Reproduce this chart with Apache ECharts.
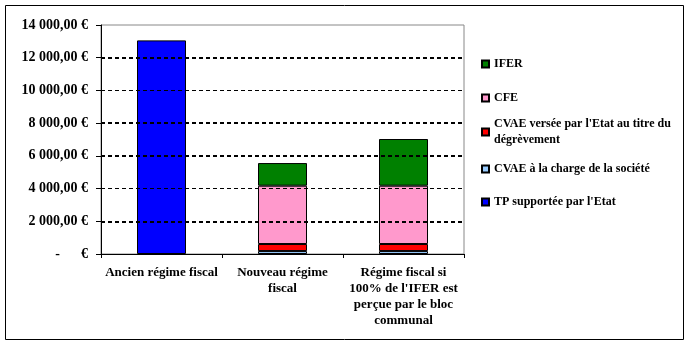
<!DOCTYPE html>
<html>
<head>
<meta charset="utf-8">
<script src="https://cdn.jsdelivr.net/npm/echarts@6/dist/echarts.min.js"></script>
<style>
  html, body { margin: 0; padding: 0; background: #fff; }
  #chart { width: 689px; height: 345px; }
</style>
</head>
<body>
<div id="chart"></div>
<script>
// Categories (x axis), with their line breaks
const categories = [
  "Ancien régime fiscal",
  "Nouveau régime\nfiscal",
  "Régime fiscal si\n100% de l'IFER est\nperçue par le bloc\ncommunal"
];

// Series values, in euros
const tpEtat = [13060, null, null];          // TP supportée par l'Etat
const cvaeSociete = [null, 180, 180];        // CVAE à la charge de la société
const cvaeEtat = [null, 430, 430];           // CVAE versée par l'Etat au titre du dégrèvement
const cfe = [null, 3565, 3565];              // CFE
const ifer = [null, 1385, 2855];             // IFER

// Y axis gridlines
const strongGrid = [2000, 6000, 8000, 12000];
const lightGrid = [4000, 10000];

const FONT = "'Liberation Serif', serif";

function euro(v) {
  if (v === 0) return "-      €";
  const s = String(Math.round(v)).replace(/\B(?=(\d{3})+(?!\d))/g, " ");
  return s + ",00 €";
}

const chart = echarts.init(document.getElementById("chart"), null, { renderer: "canvas" });

const border = { borderColor: "#000", borderWidth: 1 };

function bar(name, data, color, extra) {
  return Object.assign({
    name: name,
    type: "bar",
    stack: "total",
    barWidth: 49,
    data: data,
    itemStyle: Object.assign({ color: color }, border),
    emphasis: { disabled: true }
  }, extra || {});
}

const gridLines = {
  silent: true,
  symbol: "none",
  label: { show: false },
  data: strongGrid.map(v => ({ yAxis: v, lineStyle: { type: [4, 3], width: 2, color: "#000" } }))
    .concat(lightGrid.map(v => ({ yAxis: v, lineStyle: { type: [4, 3], width: 1, color: "#000" } })))
};

function legendFor(name, top, extraText) {
  return {
    orient: "vertical",
    left: 481,
    top: top,
    padding: 0,
    icon: "rect",
    itemWidth: 7,
    itemHeight: 7,
    selectedMode: false,
    data: [name],
    textStyle: Object.assign({
      fontFamily: FONT, fontWeight: "bold", fontSize: 12, color: "#000",
      width: 190, overflow: "break", lineHeight: 16
    }, extraText || {})
  };
}

const option = {
  animation: false,
  backgroundColor: "#fff",
  graphic: [{
    type: "rect",
    shape: { x: 5.5, y: 5.5, width: 678, height: 334 },
    style: { fill: "none", stroke: "#000", lineWidth: 1 },
    silent: true
  }],
  grid: {
    left: 101, right: 225, top: 25, bottom: 91,
    show: true, borderColor: "#888", borderWidth: 1, backgroundColor: "transparent"
  },
  legend: [
    legendFor("IFER", 56),
    legendFor("CFE", 90),
    legendFor("CVAE versée par l'Etat au titre du dégrèvement", 108, { padding: [16, 0, 0, 0] }),
    legendFor("CVAE à la charge de la société", 161),
    legendFor("TP supportée par l'Etat", 194)
  ],
  xAxis: {
    type: "category",
    data: categories,
    axisLine: { lineStyle: { color: "#000", width: 1 } },
    axisTick: { show: true, length: 4, lineStyle: { color: "#000" } },
    axisLabel: {
      interval: 0, margin: 11,
      fontFamily: FONT, fontWeight: "bold", fontSize: 13, color: "#000",
      lineHeight: 16, align: "center"
    }
  },
  yAxis: {
    type: "value",
    min: 0, max: 14000, interval: 2000,
    axisLine: { show: true, lineStyle: { color: "#000", width: 1 } },
    axisTick: { show: true, length: 5, lineStyle: { color: "#000" } },
    splitLine: { show: false },
    axisLabel: {
      margin: 13,
      fontFamily: FONT, fontWeight: "bold", fontSize: 14, color: "#000",
      formatter: euro
    }
  },
  series: [
    bar("TP supportée par l'Etat", tpEtat, "#0000FF", { markLine: gridLines, z: 3 }),
    bar("CVAE à la charge de la société", cvaeSociete, "#99CCFF"),
    bar("CVAE versée par l'Etat au titre du dégrèvement", cvaeEtat, "#FF0000"),
    bar("CFE", cfe, "#FF99CC"),
    bar("IFER", ifer, "#008000")
  ]
};

chart.setOption(option);
</script>
</body>
</html>
